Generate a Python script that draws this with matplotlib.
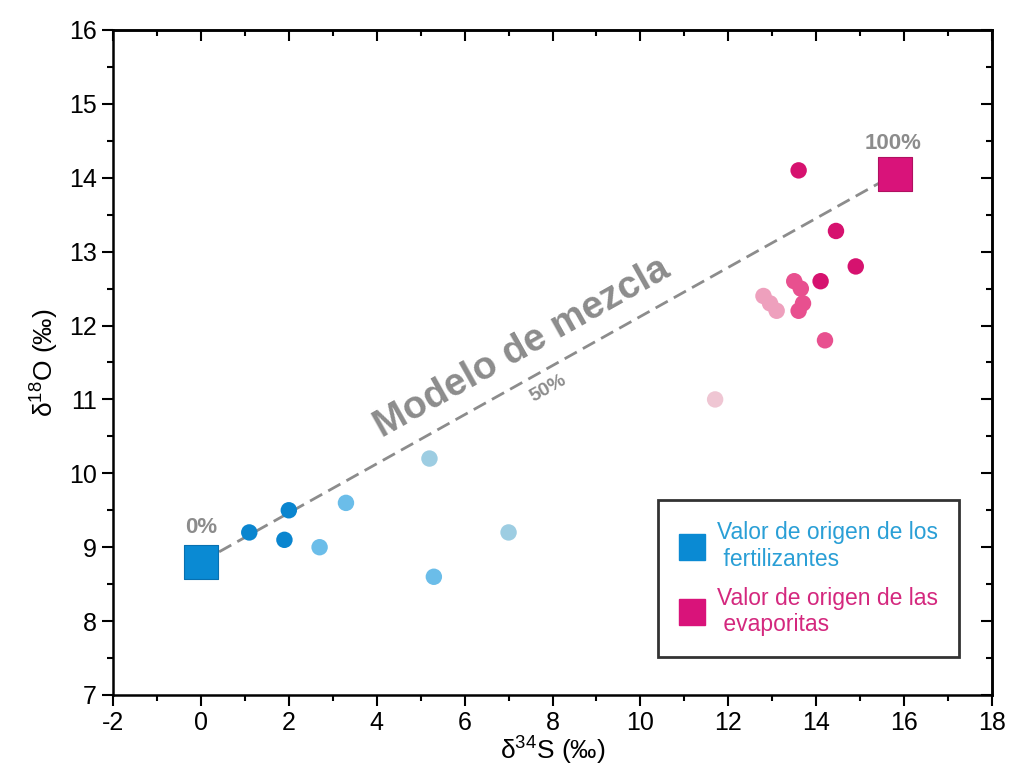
"""
Modelo de mezcla d34S vs d18O
- fuentes: fertilizantes y evaporitas
"""

import matplotlib
matplotlib.use("Agg")
import matplotlib.pyplot as plt
from matplotlib.lines import Line2D
from matplotlib.ticker import MultipleLocator

plt.rcParams["font.family"] = ["Liberation Sans", "DejaVu Sans"]
plt.rcParams["mathtext.default"] = "regular"
plt.rcParams["axes.unicode_minus"] = False

# muestras (d34S, d18O) por grupo de color
blue_dark_s = [1.1, 2.0, 1.9]
blue_dark_o = [9.2, 9.5, 9.1]
blue_mid_s = [3.3, 2.7, 5.3]
blue_mid_o = [9.6, 9.0, 8.6]
blue_pale_s = [5.2, 7.0]
blue_pale_o = [10.2, 9.2]

pink_dark_s = [13.6, 14.45, 14.9, 14.1]
pink_dark_o = [14.1, 13.28, 12.8, 12.6]
pink_mid_s = [13.5, 13.65, 13.7, 13.6, 14.2]
pink_mid_o = [12.6, 12.5, 12.3, 12.2, 11.8]
pink_light_s = [12.8, 12.95, 13.1]
pink_light_o = [12.4, 12.3, 12.2]
pink_pale_s = [11.7]
pink_pale_o = [11.0]

# valores de origen
fert_s, fert_o = 0.0, 8.8
evap_s, evap_o = 15.8, 14.05

BLUE = "#0a8ad3"
PINK = "#d9137a"
GREY = "#8c8c8c"


def set_ticks(axis):
    axis.set_major_locator(MultipleLocator(2 if axis.axis_name == "x" else 1))
    axis.set_minor_locator(MultipleLocator(1 if axis.axis_name == "x" else 0.5))


def main():
    fig = plt.figure(figsize=(10.11, 7.83), dpi=100)
    ax = fig.add_axes([0.1118, 0.1124, 0.8694, 0.8493])

    # linea de mezcla
    ax.plot([fert_s, evap_s], [fert_o, evap_o], color=GREY,
            linestyle=(0, (5, 2.5)), linewidth=2, zorder=2)

    groups = [
        (blue_dark_s, blue_dark_o, "#0a85cf"),
        (blue_mid_s, blue_mid_o, "#6bbde9"),
        (blue_pale_s, blue_pale_o, "#9dcde2"),
        (pink_dark_s, pink_dark_o, "#d6126f"),
        (pink_mid_s, pink_mid_o, "#e8508f"),
        (pink_light_s, pink_light_o, "#eea0bd"),
        (pink_pale_s, pink_pale_o, "#efc6d3"),
    ]
    for xs, ys, c in groups:
        ax.scatter(xs, ys, s=140, color=c, edgecolor="none", zorder=3)

    ax.scatter([fert_s], [fert_o], marker="s", s=580, color=BLUE,
               edgecolor="#0870b0", linewidth=0.8, zorder=4)
    ax.scatter([evap_s], [evap_o], marker="s", s=580, color=PINK,
               edgecolor="#b01060", linewidth=0.8, zorder=4)

    # textos
    ax.text(7.3, 11.7, "Modelo de mezcla", color=GREY, fontsize=28,
            fontweight="bold", rotation=29.3, ha="center", va="center",
            rotation_mode="anchor")
    ax.text(7.9, 11.15, "50%", color=GREY, fontsize=14, fontweight="bold",
            rotation=29.3, ha="center", va="center", rotation_mode="anchor")
    ax.text(0.0, 9.27, "0%", color=GREY, fontsize=16, fontweight="bold",
            ha="center", va="center")
    ax.text(15.75, 14.47, "100%", color=GREY, fontsize=16, fontweight="bold",
            ha="center", va="center")

    ax.set_xlim(-2, 18)
    ax.set_ylim(7, 16)
    set_ticks(ax.xaxis)
    set_ticks(ax.yaxis)
    ax.tick_params(which="both", direction="out", width=1.5, labelsize=18,
                   top=False, right=False)
    ax.tick_params(which="major", length=8)
    ax.tick_params(which="minor", length=4)
    for sp in ax.spines.values():
        sp.set_linewidth(1.8)

    # ticks hacia dentro arriba y a la derecha
    top = ax.secondary_xaxis("top")
    right = ax.secondary_yaxis("right")
    set_ticks(top.xaxis)
    set_ticks(right.yaxis)
    for sec in (top, right):
        sec.tick_params(which="both", direction="in", width=1.5,
                        labeltop=False, labelright=False)
        sec.tick_params(which="major", length=8)
        sec.tick_params(which="minor", length=4)
        for sp in sec.spines.values():
            sp.set_linewidth(1.8)

    ax.set_xlabel("δ$^{34}$S (‰)", fontsize=19, labelpad=0)
    ax.set_ylabel("δ$^{18}$O (‰)", fontsize=19, labelpad=6)

    handles = [
        Line2D([], [], marker="s", linestyle="none", markersize=19,
               color=BLUE),
        Line2D([], [], marker="s", linestyle="none", markersize=19,
               color=PINK),
    ]
    labels = ["Valor de origen de los\n fertilizantes",
              "Valor de origen de las\n evaporitas"]
    leg = ax.legend(handles, labels, loc="lower right",
                    bbox_to_anchor=(0.975, 0.04), fontsize=16.5,
                    frameon=True, fancybox=False, edgecolor="black",
                    borderpad=0.9, handletextpad=0.55, labelspacing=0.7,
                    handlelength=1.1)
    leg.get_frame().set_linewidth(2)
    for txt, c in zip(leg.get_texts(), ["#2a9fd6", "#d4287e"]):
        txt.set_color(c)

    fig.savefig("out.png", dpi=100)


if __name__ == "__main__":
    main()
